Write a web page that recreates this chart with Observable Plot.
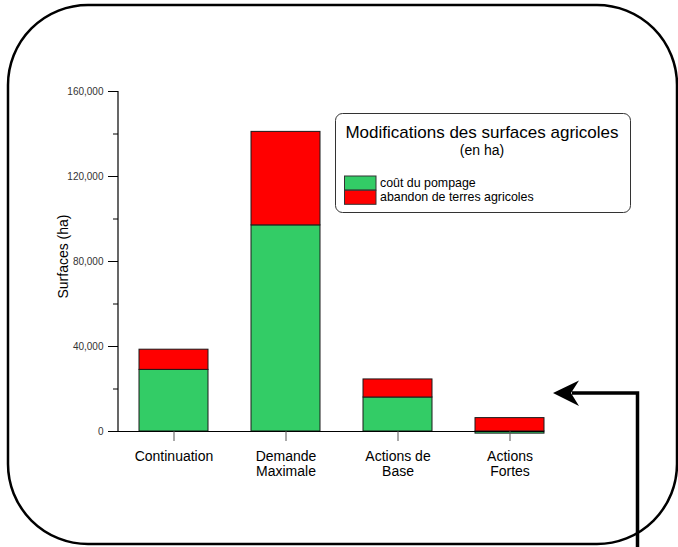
<!DOCTYPE html>
<html><head><meta charset="utf-8">
<script src="https://cdn.jsdelivr.net/npm/d3@7"></script>
<script src="https://cdn.jsdelivr.net/npm/@observablehq/plot@0.6"></script>
<style>
body{margin:0;background:#fff}
#wrap{position:relative;width:678px;height:547px;overflow:hidden}
#wrap svg{position:absolute;left:0;top:0}
</style>
</head><body><div id="wrap"></div>
<script>
const scenarios = ["Continuation", "Demande\nMaximale", "Actions de\nBase", "Actions\nFortes"];
const series = ["coût du pompage", "abandon de terres agricoles"];
const colors = ["#33CC66", "#FF0000"];
const pompage = [29000, 97000, 16000, -1000];
const abandon = [9500, 44000, 8500, 6300];
const majorTicks = [0, 40000, 80000, 120000, 160000];
const minorTicks = [20000, 60000, 100000, 140000];
const legendTitle = "Modifications des surfaces agricoles";
const legendSubtitle = "(en ha)";
const yLabel = "Surfaces (ha)";

const data = scenarios.flatMap((s, i) => [
  {scenario: s, type: series[0], value: pompage[i]},
  {scenario: s, type: series[1], value: abandon[i]}
]);

const font = "'Liberation Sans', Arial, sans-serif";

const chart = Plot.plot({
  width: 678, height: 547,
  marginLeft: 118, marginRight: 134, marginTop: 91, marginBottom: 116,
  style: {fontFamily: font, background: "transparent", color: "#000"},
  x: {domain: scenarios, paddingInner: 0.3856, paddingOuter: 0.09, align: 1, label: null},
  y: {domain: [0, 160000], label: null},
  color: {domain: series, range: colors},
  marks: [
    Plot.barY(data, {x: "scenario", y: "value", fill: "type", stroke: "#1a1a1a", strokeWidth: 1}),
    Plot.ruleY([0], {stroke: "#000", strokeWidth: 1}),
    Plot.axisX({tickSize: 10, tickPadding: 9, fontSize: 14, lineHeight: 1.07, stroke: "#555", label: null}),
    Plot.axisY({ticks: majorTicks, tickSize: 10, tickPadding: 5, fontSize: 10, tickFormat: d3.format(","), label: null, fill: "#333"}),
    Plot.axisY({ticks: minorTicks, tickSize: 5, tickFormat: () => "", label: null}),
    Plot.text([yLabel], {frameAnchor: "left", textAnchor: "middle", lineAnchor: "middle", rotate: -90, dx: -55, dy: -5, fontSize: 14})
  ]
});
document.getElementById("wrap").appendChild(chart);

// y axis line through the chart's own scales
const ys = chart.scale("y"), xs = chart.scale("x");
const ax = xs.range[0];
d3.select(chart).append("line")
  .attr("x1", ax).attr("x2", ax)
  .attr("y1", ys.apply(majorTicks[0])).attr("y2", ys.apply(majorTicks[majorTicks.length - 1]))
  .attr("stroke", "#000").attr("stroke-width", 1.2);

// decorations overlay
const ov = d3.select("#wrap").append("svg").attr("width", 678).attr("height", 547)
  .style("font-family", font);
ov.append("rect").attr("x", 8).attr("y", 5).attr("width", 669).attr("height", 539).attr("rx", 80)
  .attr("fill", "none").attr("stroke", "#000").attr("stroke-width", 2.5);

const lg = ov.append("g");
lg.append("rect").attr("x", 335.5).attr("y", 113.5).attr("width", 295).attr("height", 99).attr("rx", 7)
  .attr("fill", "#fff").attr("stroke", "#333").attr("stroke-width", 1);
lg.append("text").attr("x", 482).attr("y", 138).attr("text-anchor", "middle").attr("font-size", 17).text(legendTitle);
lg.append("text").attr("x", 482).attr("y", 155).attr("text-anchor", "middle").attr("font-size", 14).text(legendSubtitle);
series.forEach((s, i) => {
  lg.append("rect").attr("x", 344.5).attr("y", 176 + i * 14.3).attr("width", 31.5).attr("height", 14)
    .attr("fill", colors[i]).attr("stroke", "#333").attr("stroke-width", 1);
  lg.append("text").attr("x", 380).attr("y", 186.5 + i * 14.5).attr("font-size", 12.4).text(s);
});

// arrow
ov.append("path").attr("d", "M637.5,548 V393 H572").attr("fill", "none").attr("stroke", "#000").attr("stroke-width", 3.5);
ov.append("path").attr("d", "M553,393 L579,380.5 L571,393 L579,406 Z").attr("fill", "#000");
</script>
</body></html>
